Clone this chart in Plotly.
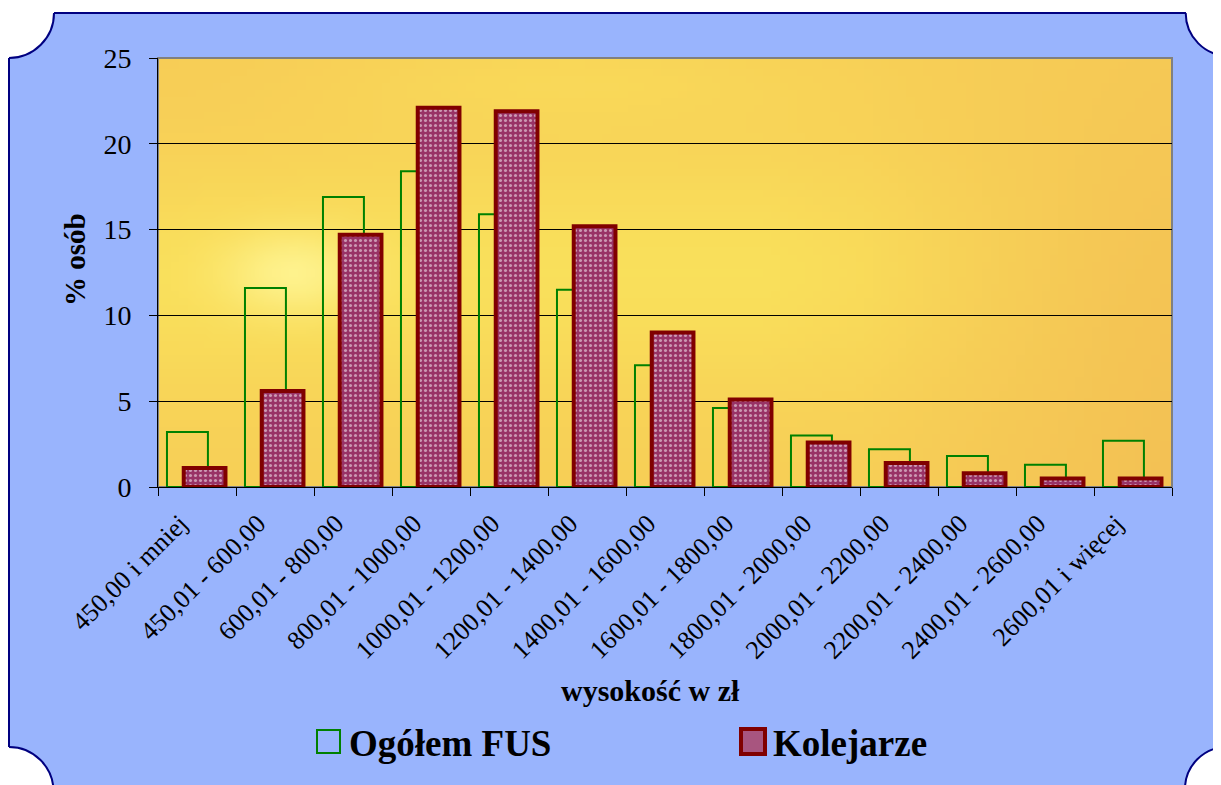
import zlib, struct, base64, math
import plotly.graph_objects as go

categories = ["450,00 i mniej", "450,01 - 600,00", "600,01 - 800,00", "800,01 - 1000,00",
              "1000,01 - 1200,00", "1200,01 - 1400,00", "1400,01 - 1600,00", "1600,01 - 1800,00",
              "1800,01 - 2000,00", "2000,01 - 2200,00", "2200,01 - 2400,00", "2400,01 - 2600,00",
              "2600,01 i więcej"]
ogolem_fus = [3.2, 11.6, 16.9, 18.4, 15.9, 11.5, 7.1, 4.6, 3.0, 2.2, 1.8, 1.3, 2.7]
kolejarze = [1.1, 5.6, 14.7, 22.1, 21.9, 15.2, 9.0, 5.1, 2.6, 1.4, 0.8, 0.5, 0.5]
series_names = ["Ogółem FUS", "Kolejarze"]
y_ticks = [0, 5, 10, 15, 20, 25]

OFF = 8  # page body margin
W, H = 1221 - OFF, 785 - OFF
L, R, T, B = 158 - OFF, 1172 - OFF, 58 - OFF, 487 - OFF
PW, PH = R - L, B - T
FONT = "Liberation Serif"
BLUE = "#99B4FD"
NAVY = "#000080"


def px2x(p):  # page pixel -> paper x
    return (p - OFF - L) / PW


def py2y(p):  # page pixel -> paper y
    return (B - (p - OFF)) / PH


def mix(c1, c2, t):
    return tuple(c1[i] + (c2[i] - c1[i]) * t for i in range(3))


def grad_pixel(u, v):
    c = (247, 206, 86)
    wy = math.exp(-((v - 0.5) / 0.3) ** 2) * max(0.0, min(1.0, (0.95 - u) / 0.35))
    c = mix(c, (250, 228, 92), 0.8 * wy)
    wt = math.exp(-((v - 0.05) / 0.12) ** 2) * math.exp(-((u - 0.4) / 0.25) ** 2)
    c = mix(c, (250, 222, 90), 0.6 * wt)
    ws = math.exp(-((u - 0.13) / 0.07) ** 2 - ((v - 0.5) / 0.1) ** 2)
    c = mix(c, (255, 246, 150), 0.85 * ws)
    wo = max(0.0, (u - 0.7) / 0.3) * (0.4 + 0.6 * v)
    c = mix(c, (240, 184, 82), 0.6 * wo)
    wl = math.exp(-(u / 0.2) ** 2 - (v / 0.3) ** 2)
    c = mix(c, (247, 202, 86), 0.4 * wl)
    return tuple(int(max(0, min(255, round(x)))) for x in c)


def png_uri(w, h, fn):
    rows = []
    for j in range(h):
        row = bytearray([0])
        for i in range(w):
            row.extend(fn(i / (w - 1), j / (h - 1)))
        rows.append(bytes(row))
    raw = b"".join(rows)

    def chunk(t, d):
        return struct.pack(">I", len(d)) + t + d + struct.pack(">I", zlib.crc32(t + d) & 0xffffffff)

    png = (b"\x89PNG\r\n\x1a\n" + chunk(b"IHDR", struct.pack(">IIBBBBB", w, h, 8, 2, 0, 0, 0))
           + chunk(b"IDAT", zlib.compress(raw)) + chunk(b"IEND", b""))
    return "data:image/png;base64," + base64.b64encode(png).decode()


bg_uri = png_uri(120, 60, grad_pixel)

fig = go.Figure()
fig.add_trace(go.Bar(
    x=categories, y=ogolem_fus, name=series_names[0],
    offset=-0.385, width=0.525,
    marker=dict(color="rgba(0,0,0,0)", line=dict(color="#008000", width=2)),
    showlegend=False,
))
fig.add_trace(go.Bar(
    x=categories, y=kolejarze, name=series_names[1],
    offset=-0.17, width=0.535,
    marker=dict(color="#993366", line=dict(color="#800000", width=4),
                pattern=dict(shape=".", fgcolor="white", bgcolor="#993366", size=5, solidity=0.3)),
    showlegend=False,
))

shapes = []
for cx, cy, r in [(9, 13, 45), (1228.7, 13, 43), (9, 791.5, 44.5), (1227, 789, 42)]:
    shapes.append(dict(type="circle", xref="paper", yref="paper",
                       x0=px2x(cx - r), x1=px2x(cx + r), y0=py2y(cy + r), y1=py2y(cy - r),
                       fillcolor="white", line=dict(color=NAVY, width=2), layer="above"))
shapes.append(dict(type="rect", xref="paper", yref="paper", x0=px2x(-5), x1=px2x(1230),
                   y0=py2y(13), y1=py2y(-5), fillcolor="white", line=dict(width=0), layer="above"))
shapes.append(dict(type="rect", xref="paper", yref="paper", x0=px2x(-5), x1=px2x(9),
                   y0=py2y(795), y1=py2y(-5), fillcolor="white", line=dict(width=0), layer="above"))
shapes.append(dict(type="line", xref="paper", yref="paper", x0=px2x(54), x1=px2x(1186),
                   y0=py2y(13), y1=py2y(13), line=dict(color=NAVY, width=2), layer="above"))
shapes.append(dict(type="line", xref="paper", yref="paper", x0=px2x(9), x1=px2x(9),
                   y0=py2y(58), y1=py2y(747), line=dict(color=NAVY, width=2), layer="above"))
shapes.append(dict(type="rect", xref="paper", yref="paper", x0=0, x1=1, y0=0, y1=1,
                   line=dict(color="#808080", width=2), fillcolor="rgba(0,0,0,0)", layer="below"))
shapes.append(dict(type="rect", xref="paper", yref="paper", x0=px2x(317), x1=px2x(340),
                   y0=py2y(753), y1=py2y(730), line=dict(color="#008000", width=2),
                   fillcolor="rgba(0,0,0,0)", layer="above"))
shapes.append(dict(type="rect", xref="paper", yref="paper", x0=px2x(741), x1=px2x(765),
                   y0=py2y(754), y1=py2y(729), line=dict(color="#800000", width=4),
                   fillcolor="#A8557F", layer="above"))

annotations = [
    dict(text="wysokość w zł", xref="paper", yref="paper", x=px2x(650), y=py2y(690),
         showarrow=False, xanchor="center", yanchor="middle",
         font=dict(family=FONT, size=30, color="black", weight="bold")),
    dict(text="% osób", xref="paper", yref="paper", x=px2x(75), y=py2y(260),
         showarrow=False, xanchor="center", yanchor="middle", textangle=-90,
         font=dict(family=FONT, size=29, color="black", weight="bold")),
    dict(text=series_names[0], xref="paper", yref="paper", x=px2x(347), y=py2y(743),
         showarrow=False, xanchor="left", yanchor="middle",
         font=dict(family=FONT, size=37, color="black", weight="bold")),
    dict(text=series_names[1], xref="paper", yref="paper", x=px2x(771), y=py2y(743),
         showarrow=False, xanchor="left", yanchor="middle",
         font=dict(family=FONT, size=37, color="black", weight="bold")),
]

fig.update_layout(
    width=W, height=H,
    margin=dict(l=L, r=W - R, t=T, b=H - B, autoexpand=False),
    paper_bgcolor=BLUE,
    plot_bgcolor="#F7CC54",
    barmode="overlay",
    showlegend=False,
    shapes=shapes,
    annotations=annotations,
    images=[dict(source=bg_uri, xref="paper", yref="paper", x=0, y=1, sizex=1, sizey=1,
                 xanchor="left", yanchor="top", sizing="stretch", layer="below")],
    font=dict(family=FONT, color="black"),
)
fig.update_yaxes(range=[0, 25], tickvals=y_ticks, ticks="outside", ticklen=8, tickcolor="black",
                 showline=True, linecolor="black", linewidth=1,
                 showgrid=True, gridcolor="black", gridwidth=1, zeroline=False,
                 tickfont=dict(family=FONT, size=28, color="black"), ticklabelstandoff=12)
fig.update_xaxes(type="category", tickson="boundaries", ticks="outside", ticklen=8, tickcolor="black",
                 showline=True, linecolor="black", linewidth=1, showgrid=False,
                 tickangle=-45, tickfont=dict(family=FONT, size=26, color="black"),
                 ticklabelshift=-17, ticklabelstandoff=10,
                 range=[-0.5, len(categories) - 0.5])

fig.write_html("out.html")
